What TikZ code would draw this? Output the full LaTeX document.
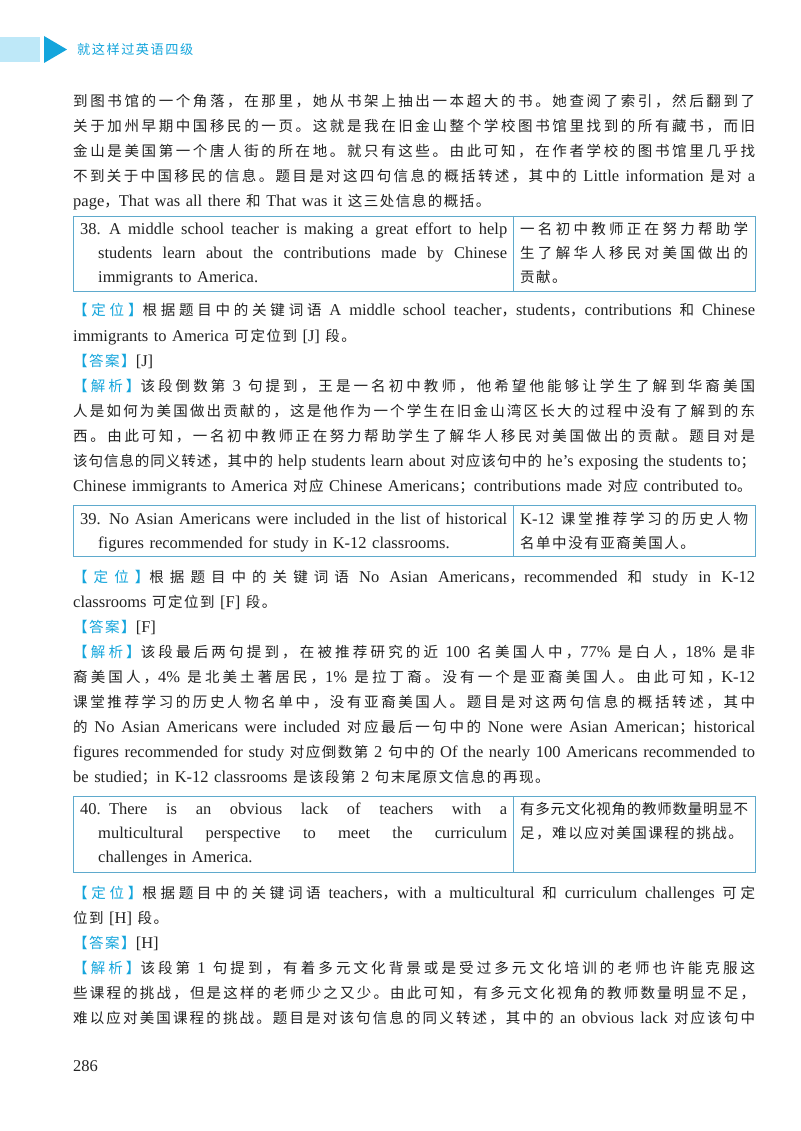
\documentclass[tikz,border=0pt]{standalone}
\usepackage{fontspec}
\setmainfont{Liberation Serif}
\newfontfamily\cjk{Noto Sans CJK SC}[Scale=0.88]
\newfontfamily\hdfont{Noto Sans CJK SC}
\XeTeXinterchartokenstate=1
\newXeTeXintercharclass\cjkclass
\newcount\cc
\newskip\cjkskip \cjkskip=1.5pt minus 0.5pt
\def\setcls#1#2{\cc=#1\relax\loop\XeTeXcharclass\cc=\cjkclass\advance\cc 1\relax\ifnum\cc<#2\repeat}
\setcls{"3000}{"3040}
\setcls{"4E00}{"A000}
\setcls{"FF00}{"FFF0}
\XeTeXinterchartoks 0 \cjkclass={\cjk}
\XeTeXinterchartoks 4095 \cjkclass={\cjk}
\XeTeXinterchartoks \cjkclass 0={\rmfamily}
\XeTeXinterchartoks \cjkclass 4095={\rmfamily}
\XeTeXinterchartoks \cjkclass \cjkclass={\hskip\cjkskip}
\definecolor{hd}{RGB}{20,165,220}
\definecolor{hdl}{RGB}{190,232,248}
\definecolor{tb}{RGB}{95,170,205}
\definecolor{tx}{RGB}{35,35,35}
\newcommand{\lab}[1]{{\color{hd}【#1】}}
\tikzset{
 ln/.style={anchor=base west,inner sep=0pt,text width=#1,font=\fontsize{16.5}{20}\selectfont,text=tx},
}
\newcommand{\setj}{\tolerance=10000\hbadness=10000\spaceskip=0.25em plus 1fil minus 0.08em\cjkskip=0pt plus 1fil minus 0.5pt\relax}
\newcommand{\jl}[4][682pt]{\node[ln=#1] at (#2,#3) {\setj\parfillskip=0pt\noindent #4\par};}
\newcommand{\pl}[4][682pt]{\node[ln=#1] at (#2,#3) {\noindent #4\par};}
\begin{document}
\begin{tikzpicture}[x=1pt,y=-1pt]
\useasboundingbox (0,0) rectangle (800,1131);
\fill[white] (0,0) rectangle (800,1131);
% header
\fill[hdl] (0,37) rectangle (40,62);
\fill[hd] (44,36) -- (67,49.5) -- (44,63) -- cycle;
\node[anchor=west,inner sep=0pt,text=hd,font=\hdfont\fontsize{15}{17}\selectfont] (hdr) at (77,49.5) {就这样过英语四级};
% para 1
\jl{73}{107}{到图书馆的一个角落，在那里，她从书架上抽出一本超大的书。她查阅了索引，然后翻到了}
\jl{73}{132}{关于加州早期中国移民的一页。这就是我在旧金山整个学校图书馆里找到的所有藏书，而旧}
\jl{73}{157}{金山是美国第一个唐人街的所在地。就只有这些。由此可知，在作者学校的图书馆里几乎找}
\jl{73}{182}{不到关于中国移民的信息。题目是对这四句信息的概括转述，其中的 Little information 是对 a}
\pl{73}{207}{page，That was all there 和 That was it 这三处信息的概括。}
% table 38
\draw[tb,line width=0.8pt] (73,216) rectangle (755,291);
\draw[tb,line width=0.8pt] (513,216) -- (513,291);
\jl[427pt]{80}{235}{38. A middle school teacher is making a great effort to help}
\jl[409pt]{98}{259}{students learn about the contributions made by Chinese}
\pl[409pt]{98}{283}{immigrants to America.}
\jl[228pt]{520}{235}{一名初中教师正在努力帮助学}
\jl[228pt]{520}{259}{生了解华人移民对美国做出的}
\pl[228pt]{520}{283}{贡献。}
% 38 analysis
\jl{73}{316}{\lab{定位}根据题目中的关键词语 A middle school teacher，students，contributions 和 Chinese}
\pl{73}{341}{immigrants to America 可定位到 [J] 段。}
\pl{73}{366}{\lab{答案}[J]}
\jl{73}{391}{\lab{解析}该段倒数第 3 句提到，王是一名初中教师，他希望他能够让学生了解到华裔美国}
\jl{73}{416}{人是如何为美国做出贡献的，这是他作为一个学生在旧金山湾区长大的过程中没有了解到的东}
\jl{73}{441}{西。由此可知，一名初中教师正在努力帮助学生了解华人移民对美国做出的贡献。题目对是}
\jl{73}{466}{该句信息的同义转述，其中的 help students learn about 对应该句中的 he's exposing the students to；}
\pl{73}{491}{Chinese immigrants to America 对应 Chinese Americans；contributions made 对应 contributed to。}
% table 39
\draw[tb,line width=0.8pt] (73,505) rectangle (755,556);
\draw[tb,line width=0.8pt] (513,505) -- (513,556);
\jl[427pt]{80}{524}{39. No Asian Americans were included in the list of historical}
\pl[409pt]{98}{548}{figures recommended for study in K-12 classrooms.}
\jl[228pt]{520}{524}{K-12 课堂推荐学习的历史人物}
\pl[228pt]{520}{548}{名单中没有亚裔美国人。}
% 39 analysis
\jl{73}{582}{\lab{定位}根据题目中的关键词语 No Asian Americans，recommended 和 study in K-12}
\pl{73}{607}{classrooms 可定位到 [F] 段。}
\pl{73}{632}{\lab{答案}[F]}
\jl{73}{657}{\lab{解析}该段最后两句提到，在被推荐研究的近 100 名美国人中，77\% 是白人，18\% 是非}
\jl{73}{682}{裔美国人，4\% 是北美土著居民，1\% 是拉丁裔。没有一个是亚裔美国人。由此可知，K-12}
\jl{73}{707}{课堂推荐学习的历史人物名单中，没有亚裔美国人。题目是对这两句信息的概括转述，其中}
\jl{73}{732}{的 No Asian Americans were included 对应最后一句中的 None were Asian American；historical}
\jl{73}{757}{figures recommended for study 对应倒数第 2 句中的 Of the nearly 100 Americans recommended to}
\pl{73}{782}{be studied；in K-12 classrooms 是该段第 2 句末尾原文信息的再现。}
% table 40
\draw[tb,line width=0.8pt] (73,796) rectangle (755,872);
\draw[tb,line width=0.8pt] (513,796) -- (513,872);
\jl[427pt]{80}{814}{40. There is an obvious lack of teachers with a}
\jl[409pt]{98}{838}{multicultural perspective to meet the curriculum}
\pl[409pt]{98}{862}{challenges in America.}
\jl[228pt]{520}{814}{有多元文化视角的教师数量明显不}
\pl[228pt]{520}{838}{足，难以应对美国课程的挑战。}
% 40 analysis
\jl{73}{898}{\lab{定位}根据题目中的关键词语 teachers，with a multicultural 和 curriculum challenges 可定}
\pl{73}{923}{位到 [H] 段。}
\pl{73}{948}{\lab{答案}[H]}
\jl{73}{973}{\lab{解析}该段第 1 句提到，有着多元文化背景或是受过多元文化培训的老师也许能克服这}
\jl{73}{998}{些课程的挑战，但是这样的老师少之又少。由此可知，有多元文化视角的教师数量明显不足，}
\jl{73}{1023}{难以应对美国课程的挑战。题目是对该句信息的同义转述，其中的 an obvious lack 对应该句中}
\node[anchor=base west,inner sep=0pt,font=\fontsize{16.5}{18}\selectfont,text=tx] (pg) at (73,1071) {286};
\end{tikzpicture}
\end{document}
